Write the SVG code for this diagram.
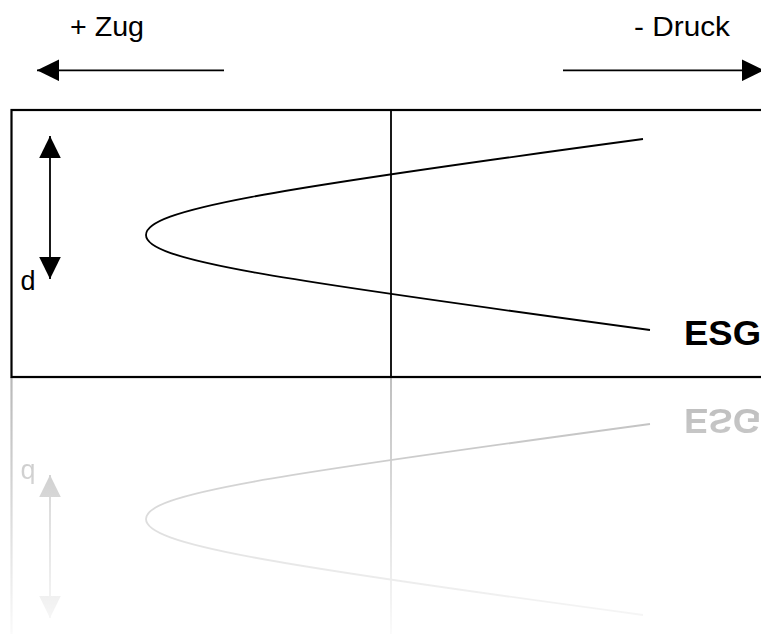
<svg xmlns="http://www.w3.org/2000/svg" width="761" height="634" viewBox="0 0 761 634">
<style>
.ln{stroke:#000;stroke-width:1.8;fill:none}
.bx{stroke:#000;stroke-width:2.2;fill:none}
.t{font-family:"Liberation Sans",Arial,sans-serif;fill:#000}
.b{font-weight:bold}
</style>
<defs>
<marker id="ah" markerUnits="userSpaceOnUse" markerWidth="22" markerHeight="22" viewBox="0 0 21 20.6" refX="21" refY="10.3" orient="auto-start-reverse">
<path d="M0,0 L21,10.3 L0,20.6 z" fill="#000"/>
</marker>
<linearGradient id="fade" gradientUnits="userSpaceOnUse" x1="0" y1="377" x2="0" y2="634">
<stop offset="0" stop-color="#fff" stop-opacity="0.28"/>
<stop offset="1" stop-color="#fff" stop-opacity="0.02"/>
</linearGradient>
<mask id="m" maskUnits="userSpaceOnUse" x="0" y="377" width="761" height="257">
<rect x="0" y="377" width="761" height="257" fill="url(#fade)"/>
</mask>
<g id="scene">
<g id="box">
<rect class="bx" x="11.5" y="110" width="770" height="267"/>
<line class="ln" x1="391" y1="110" x2="391" y2="377" stroke-width="1.6"/>
</g>
<g id="curve">
<path class="ln" d="M643,139 C263,190.3 146,210 146,235 C146,260 266,278 650,330"/>
</g>
<g id="depth">
<line class="ln" x1="50" y1="136" x2="50" y2="279" marker-start="url(#ah)" marker-end="url(#ah)"/>
<text class="t" x="20.5" y="290" font-size="27">d</text>
</g>
<g id="esg">
<text class="t b" x="684" y="345" font-size="35" textLength="77" lengthAdjust="spacingAndGlyphs">ESG</text>
</g>
</g>
</defs>
<g id="connectors">
<line class="ln" x1="224" y1="70.3" x2="37" y2="70.3" marker-end="url(#ah)"/>
<line class="ln" x1="563" y1="70.3" x2="764" y2="70.3" marker-end="url(#ah)"/>
</g>
<g id="zug">
<text class="t" x="70" y="36" font-size="28" textLength="74" lengthAdjust="spacingAndGlyphs">+ Zug</text>
</g>
<g id="druck">
<text class="t" x="634" y="36" font-size="28" textLength="96" lengthAdjust="spacingAndGlyphs">- Druck</text>
</g>
<g id="diagram">
<use href="#scene"/>
</g>
<g id="reflection" mask="url(#m)">
<g transform="matrix(1,0,0,-1,0,754)">
<use href="#scene"/>
</g>
</g>
</svg>
